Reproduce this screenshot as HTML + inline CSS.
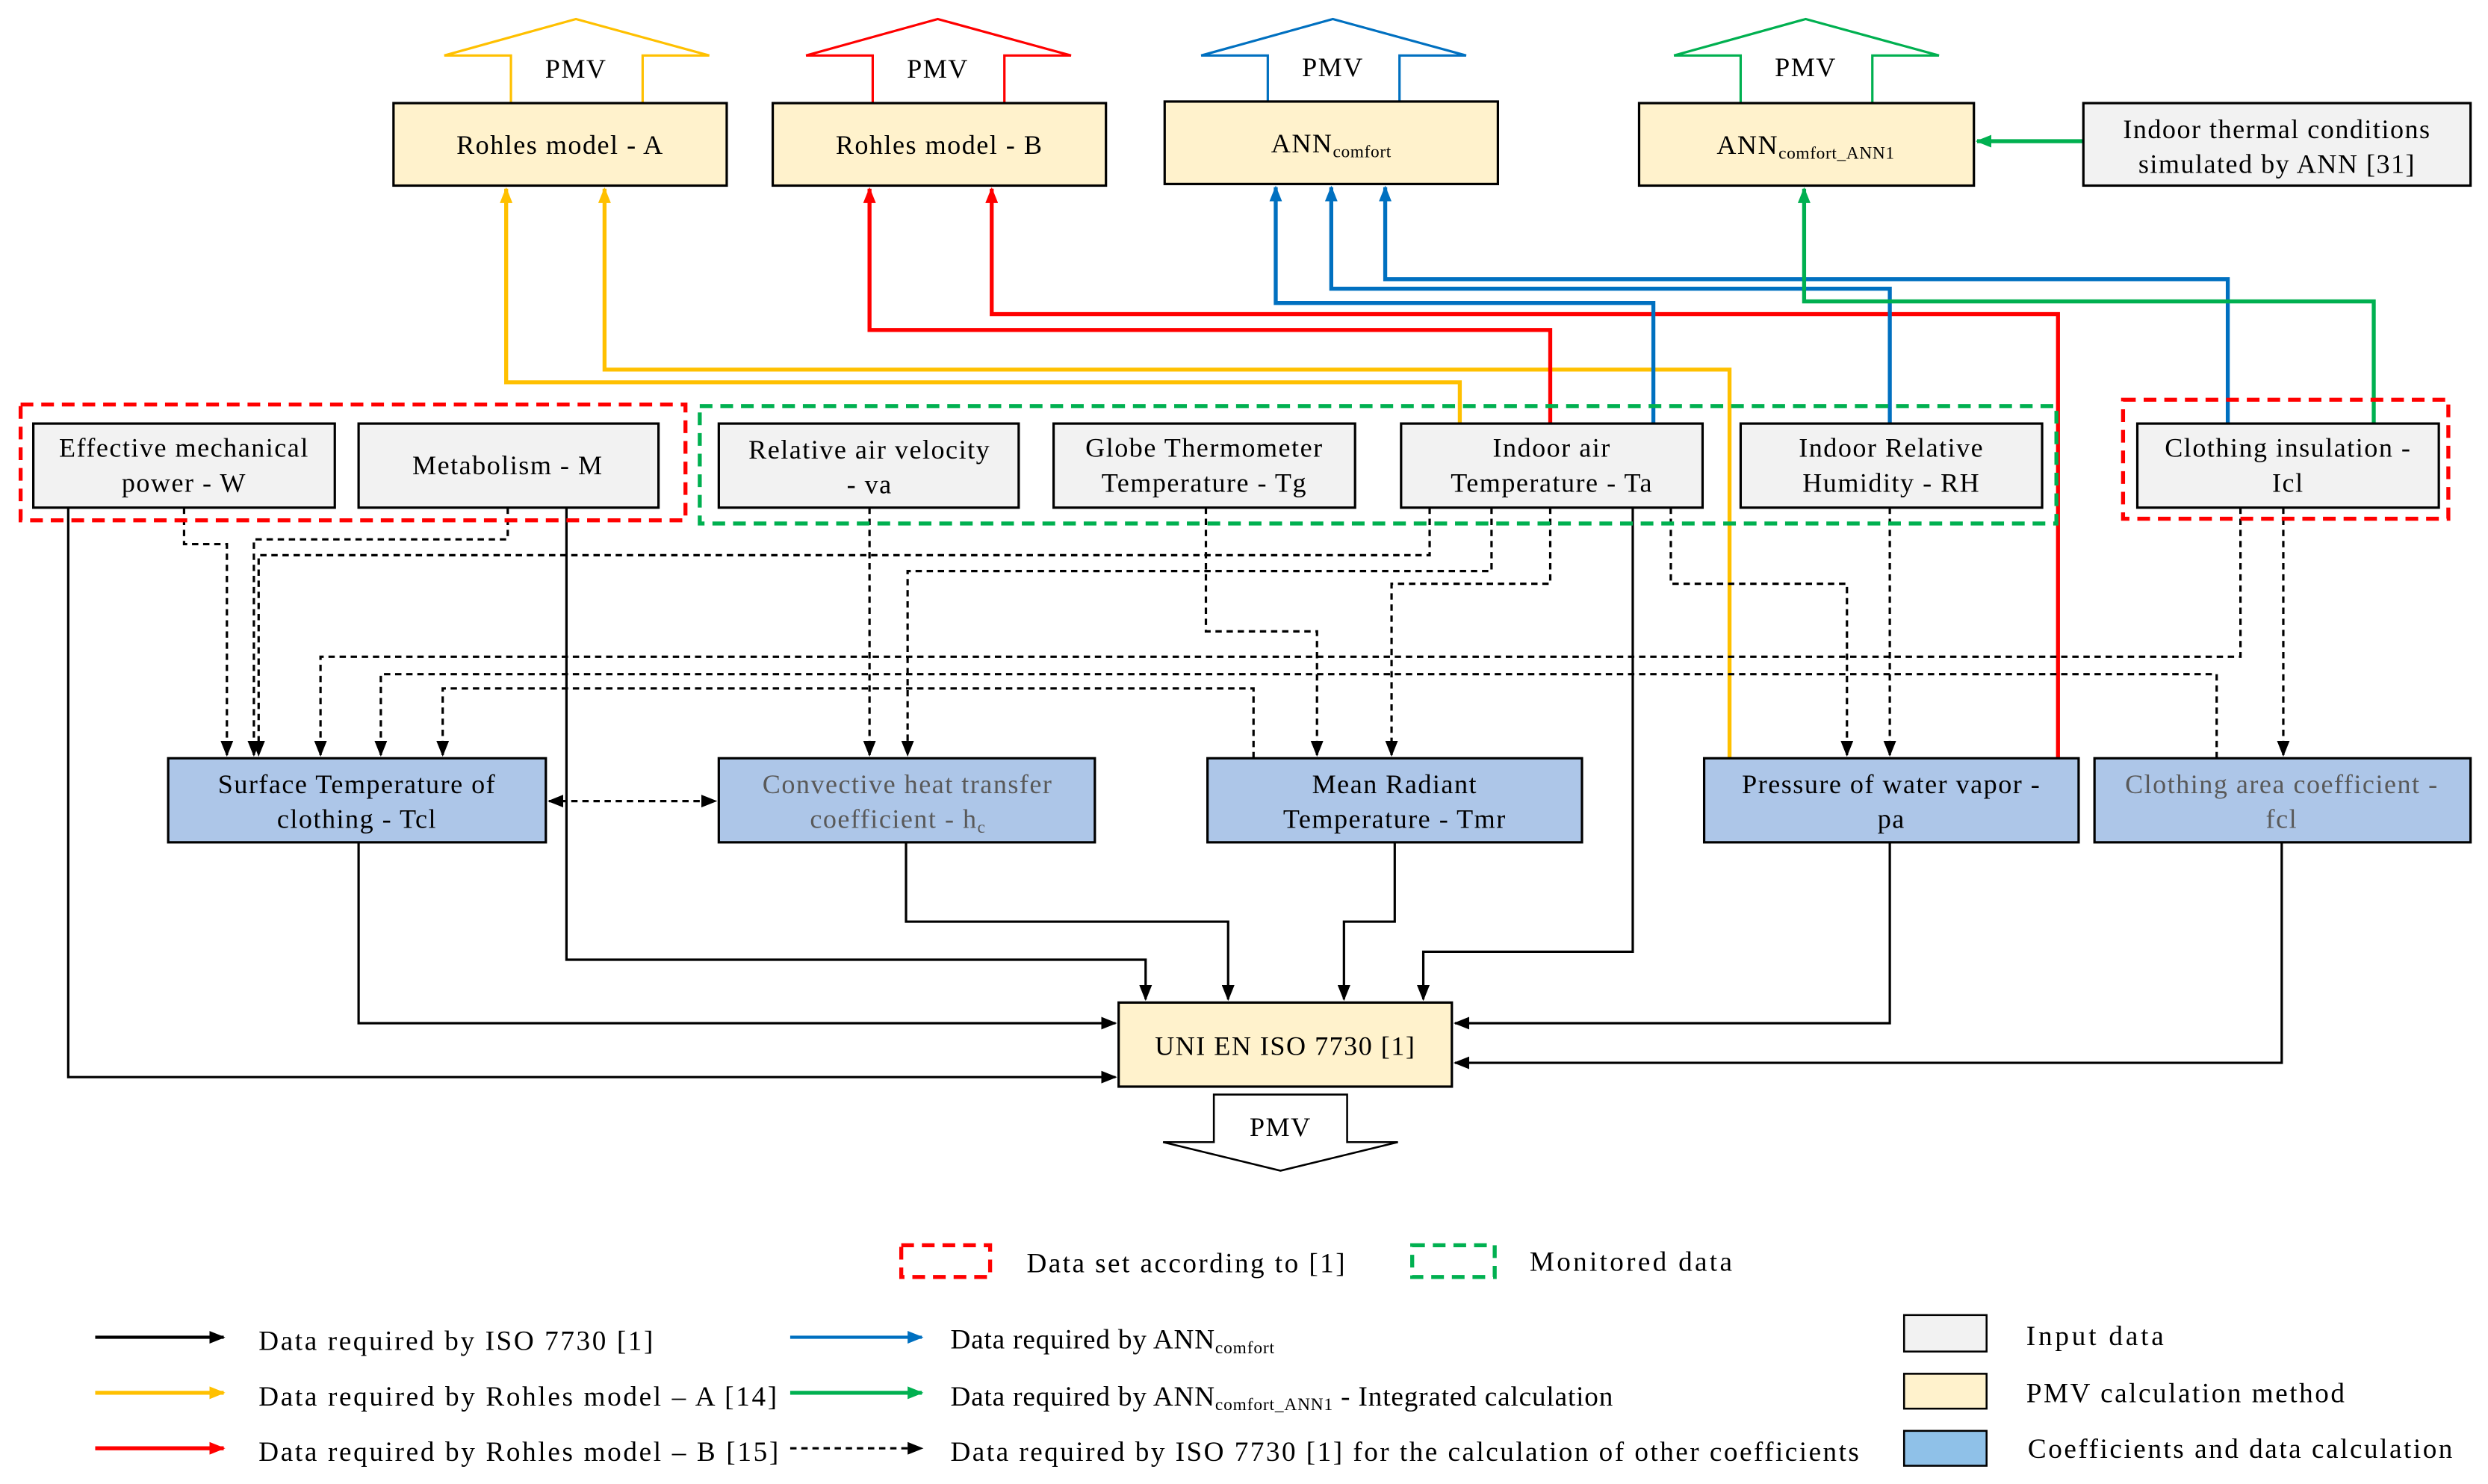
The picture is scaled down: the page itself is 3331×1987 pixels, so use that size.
<!DOCTYPE html>
<html><head><meta charset="utf-8">
<style>
html,body{margin:0;padding:0;background:#fff;}
svg{display:block;}
text{font-family:"Liberation Serif",serif;font-size:17px;letter-spacing:0.7px;fill:#000;}
text.lg{font-size:17.5px;letter-spacing:0.4px;}
</style></head>
<body>
<svg width="3331" height="1987" viewBox="0 0 1568 935.5" preserveAspectRatio="none" xmlns="http://www.w3.org/2000/svg">
<defs>
<marker id="ak" markerWidth="10" markerHeight="8" refX="9" refY="4" orient="auto" markerUnits="userSpaceOnUse"><path d="M0,0 L10,4 L0,8 z" fill="#000"/></marker>
<marker id="ay" markerWidth="10" markerHeight="8" refX="9" refY="4" orient="auto" markerUnits="userSpaceOnUse"><path d="M0,0 L10,4 L0,8 z" fill="#ffc000"/></marker>
<marker id="ar" markerWidth="10" markerHeight="8" refX="9" refY="4" orient="auto" markerUnits="userSpaceOnUse"><path d="M0,0 L10,4 L0,8 z" fill="#ff0000"/></marker>
<marker id="ab" markerWidth="10" markerHeight="8" refX="9" refY="4" orient="auto" markerUnits="userSpaceOnUse"><path d="M0,0 L10,4 L0,8 z" fill="#0070c0"/></marker>
<marker id="ag" markerWidth="10" markerHeight="8" refX="9" refY="4" orient="auto" markerUnits="userSpaceOnUse"><path d="M0,0 L10,4 L0,8 z" fill="#00b050"/></marker>
<marker id="aks" markerWidth="10" markerHeight="8" refX="1" refY="4" orient="auto" markerUnits="userSpaceOnUse"><path d="M10,0 L0,4 L10,8 z" fill="#000"/></marker>
</defs>

<g fill="#fff" stroke-width="1.5">
<path d="M322,65 L322,35 L280,35 L363,12 L447,35 L405,35 L405,65" stroke="#ffc000"/>
<path d="M550,65 L550,35 L508,35 L591,12 L675,35 L633,35 L633,65" stroke="#ff0000"/>
<path d="M799,64 L799,35 L757,35 L840,12 L924,35 L882,35 L882,64" stroke="#0070c0"/>
<path d="M1097,65 L1097,35 L1055,35 L1138,12 L1222,35 L1180,35 L1180,65" stroke="#00b050"/>
</g>
<text x="363" y="49" text-anchor="middle">PMV</text>
<text x="591" y="49" text-anchor="middle">PMV</text>
<text x="840" y="48" text-anchor="middle">PMV</text>
<text x="1138" y="48" text-anchor="middle">PMV</text>

<g fill="none" stroke-width="2.5">
<polyline points="920,267 920,241 319,241 319,119" stroke="#ffc000" marker-end="url(#ay)"/>
<polyline points="1090,478 1090,233 381,233 381,119" stroke="#ffc000" marker-end="url(#ay)"/>
<polyline points="977,267 977,208 548,208 548,119" stroke="#ff0000" marker-end="url(#ar)"/>
<polyline points="1297,478 1297,198 625,198 625,119" stroke="#ff0000" marker-end="url(#ar)"/>
<polyline points="1042,267 1042,191 804,191 804,118" stroke="#0070c0" marker-end="url(#ab)"/>
<polyline points="1191,267 1191,182 839,182 839,118" stroke="#0070c0" marker-end="url(#ab)"/>
<polyline points="1404,267 1404,176 873,176 873,118" stroke="#0070c0" marker-end="url(#ab)"/>
<polyline points="1496,267 1496,190 1137,190 1137,119" stroke="#00b050" marker-end="url(#ag)"/>
<polyline points="1313,89 1246,89" stroke="#00b050" marker-end="url(#ag)"/>
</g>

<g fill="none" stroke="#000" stroke-width="1.5">
<polyline points="43,320 43,679 703,679" marker-end="url(#ak)"/>
<polyline points="357,320 357,605 722,605 722,630" marker-end="url(#ak)"/>
<polyline points="226,531 226,645 703,645" marker-end="url(#ak)"/>
<polyline points="571,531 571,581 774,581 774,630" marker-end="url(#ak)"/>
<polyline points="879,531 879,581 847,581 847,630" marker-end="url(#ak)"/>
<polyline points="1029,320 1029,600 897,600 897,630" marker-end="url(#ak)"/>
<polyline points="1191,531 1191,645 917,645" marker-end="url(#ak)"/>
<polyline points="1438,531 1438,670 917,670" marker-end="url(#ak)"/>
</g>

<g fill="none" stroke="#000" stroke-width="1.5" stroke-dasharray="4,3">
<polyline points="116,320 116,343 143,343 143,476" marker-end="url(#ak)"/>
<polyline points="320,320 320,340 160,340 160,476" marker-end="url(#ak)"/>
<polyline points="901,320 901,350 163,350 163,476" marker-end="url(#ak)"/>
<polyline points="940,320 940,360 572,360 572,476" marker-end="url(#ak)"/>
<polyline points="548,320 548,476" marker-end="url(#ak)"/>
<polyline points="760,320 760,398 830,398 830,476" marker-end="url(#ak)"/>
<polyline points="977,320 977,368 877,368 877,476" marker-end="url(#ak)"/>
<polyline points="1053,320 1053,368 1164,368 1164,476" marker-end="url(#ak)"/>
<polyline points="1191,320 1191,476" marker-end="url(#ak)"/>
<polyline points="1412,320 1412,414 202,414 202,476" marker-end="url(#ak)"/>
<polyline points="1439,320 1439,476" marker-end="url(#ak)"/>
<polyline points="1397,478 1397,425 240,425 240,476" marker-end="url(#ak)"/>
<polyline points="790,478 790,434 279,434 279,476" marker-end="url(#ak)"/>
<polyline points="346,505 451,505" marker-end="url(#ak)" marker-start="url(#aks)"/>
</g>

<g fill="none" stroke-width="2.5" stroke-dasharray="8,5">
<rect x="13" y="255" width="419" height="73" stroke="#ff0000"/>
<rect x="441" y="256" width="855" height="74" stroke="#00b050"/>
<rect x="1338" y="252" width="205" height="75" stroke="#ff0000"/>
</g>

<g stroke="#000" stroke-width="1.5">
<rect x="248" y="65" width="210" height="52" fill="#fff2cc"/>
<rect x="487" y="65" width="210" height="52" fill="#fff2cc"/>
<rect x="734" y="64" width="210" height="52" fill="#fff2cc"/>
<rect x="1033" y="65" width="211" height="52" fill="#fff2cc"/>
<rect x="1313" y="65" width="244" height="52" fill="#f2f2f2"/>
<rect x="21" y="267" width="190" height="53" fill="#f2f2f2"/>
<rect x="226" y="267" width="189" height="53" fill="#f2f2f2"/>
<rect x="453" y="267" width="189" height="53" fill="#f2f2f2"/>
<rect x="664" y="267" width="190" height="53" fill="#f2f2f2"/>
<rect x="883" y="267" width="190" height="53" fill="#f2f2f2"/>
<rect x="1097" y="267" width="190" height="53" fill="#f2f2f2"/>
<rect x="1347" y="267" width="190" height="53" fill="#f2f2f2"/>
<rect x="106" y="478" width="238" height="53" fill="#adc6e8"/>
<rect x="453" y="478" width="237" height="53" fill="#adc6e8"/>
<rect x="761" y="478" width="236" height="53" fill="#adc6e8"/>
<rect x="1074" y="478" width="236" height="53" fill="#adc6e8"/>
<rect x="1320" y="478" width="237" height="53" fill="#adc6e8"/>
<rect x="705" y="632" width="210" height="53" fill="#fff2cc"/>
</g>

<text x="353" y="97" text-anchor="middle">Rohles model  - A</text>
<text x="592" y="97" text-anchor="middle">Rohles model  - B</text>
<text x="839" y="96" text-anchor="middle">ANN<tspan font-size="11" dy="3" style="letter-spacing:0.3px">comfort</tspan></text>
<text x="1138" y="97" text-anchor="middle">ANN<tspan font-size="11" dy="3" style="letter-spacing:0.3px">comfort_ANN1</tspan></text>
<text x="1435" y="87" text-anchor="middle">Indoor thermal  conditions</text>
<text x="1435" y="109" text-anchor="middle">simulated by ANN [31]</text>
<text x="116" y="288" text-anchor="middle">Effective mechanical</text>
<text x="116" y="310" text-anchor="middle">power - W</text>
<text x="320" y="299" text-anchor="middle">Metabolism - M</text>
<text x="548" y="289" text-anchor="middle">Relative air velocity</text>
<text x="548" y="311" text-anchor="middle">- va</text>
<text x="759" y="288" text-anchor="middle">Globe Thermometer</text>
<text x="759" y="310" text-anchor="middle">Temperature  - Tg</text>
<text x="978" y="288" text-anchor="middle">Indoor air</text>
<text x="978" y="310" text-anchor="middle">Temperature  - Ta</text>
<text x="1192" y="288" text-anchor="middle">Indoor Relative</text>
<text x="1192" y="310" text-anchor="middle">Humidity - RH</text>
<text x="1442" y="288" text-anchor="middle">Clothing insulation -</text>
<text x="1442" y="310" text-anchor="middle">Icl</text>
<text x="225" y="500" text-anchor="middle">Surface Temperature  of</text>
<text x="225" y="522" text-anchor="middle">clothing - Tcl</text>
<text x="572" y="500" text-anchor="middle" style="fill:#595959">Convective heat transfer</text>
<text x="566" y="522" text-anchor="middle" style="fill:#595959">coefficient - h<tspan font-size="11" dy="3">c</tspan></text>
<text x="879" y="500" text-anchor="middle">Mean Radiant</text>
<text x="879" y="522" text-anchor="middle">Temperature  - Tmr</text>
<text x="1192" y="500" text-anchor="middle">Pressure of water vapor -</text>
<text x="1192" y="522" text-anchor="middle">pa</text>
<text x="1438" y="500" text-anchor="middle" style="fill:#595959">Clothing area coefficient -</text>
<text x="1438" y="522" text-anchor="middle" style="fill:#595959">fcl</text>
<text x="810" y="665" text-anchor="middle">UNI EN ISO 7730  [1]</text>

<path d="M765,690 L849,690 L849,720 L881,720 L807,738 L733,720 L765,720 Z" fill="#fff" stroke="#000" stroke-width="1.2"/>
<text x="807" y="716" text-anchor="middle">PMV</text>

<rect x="568" y="785" width="56" height="20" fill="none" stroke="#ff0000" stroke-width="2.5" stroke-dasharray="8,5"/>
<text class="lg" x="647" y="802" textLength="201" lengthAdjust="spacing">Data set according to [1]</text>
<rect x="890" y="785" width="52" height="20" fill="none" stroke="#00b050" stroke-width="2.5" stroke-dasharray="8,5"/>
<text class="lg" x="964" y="801" textLength="128" lengthAdjust="spacing">Monitored data</text>

<g fill="none" stroke-width="2">
<line x1="60" y1="843" x2="141" y2="843" stroke="#000" marker-end="url(#ak)"/>
<line x1="60" y1="878" x2="141" y2="878" stroke="#ffc000" stroke-width="2.5" marker-end="url(#ay)"/>
<line x1="60" y1="913" x2="141" y2="913" stroke="#ff0000" stroke-width="2.5" marker-end="url(#ar)"/>
<line x1="498" y1="843" x2="581" y2="843" stroke="#0070c0" marker-end="url(#ab)"/>
<line x1="498" y1="878" x2="581" y2="878" stroke="#00b050" stroke-width="2.5" marker-end="url(#ag)"/>
<line x1="498" y1="913" x2="581" y2="913" stroke="#000" stroke-width="1.5" stroke-dasharray="4,3" marker-end="url(#ak)"/>
</g>
<text class="lg" x="163" y="851" textLength="249" lengthAdjust="spacing">Data required by ISO 7730 [1]</text>
<text class="lg" x="163" y="886" textLength="327" lengthAdjust="spacing">Data required by Rohles model – A [14]</text>
<text class="lg" x="163" y="921" textLength="328" lengthAdjust="spacing">Data required by Rohles model – B [15]</text>
<text class="lg" x="599" y="850">Data required by ANN<tspan font-size="11" dy="3">comfort</tspan></text>
<text class="lg" x="599" y="886">Data required by ANN<tspan font-size="11" dy="3">comfort_ANN1</tspan><tspan dy="-3"> - Integrated calculation</tspan></text>
<text class="lg" x="599" y="921" textLength="573" lengthAdjust="spacing">Data required by ISO 7730 [1] for the calculation of other coefficients</text>

<rect x="1200" y="829" width="52" height="23" fill="#f2f2f2" stroke="#000" stroke-width="1.2"/>
<rect x="1200" y="866" width="52" height="22" fill="#fff2cc" stroke="#000" stroke-width="1.2"/>
<rect x="1200" y="902" width="52" height="22" fill="#8fc1e8" stroke="#000" stroke-width="1.2"/>
<text class="lg" x="1277" y="848" textLength="87" lengthAdjust="spacing">Input data</text>
<text class="lg" x="1277" y="884" textLength="201" lengthAdjust="spacing">PMV calculation method</text>
<text class="lg" x="1278" y="919" textLength="268" lengthAdjust="spacing">Coefficients and data calculation</text>
</svg>
</body></html>
